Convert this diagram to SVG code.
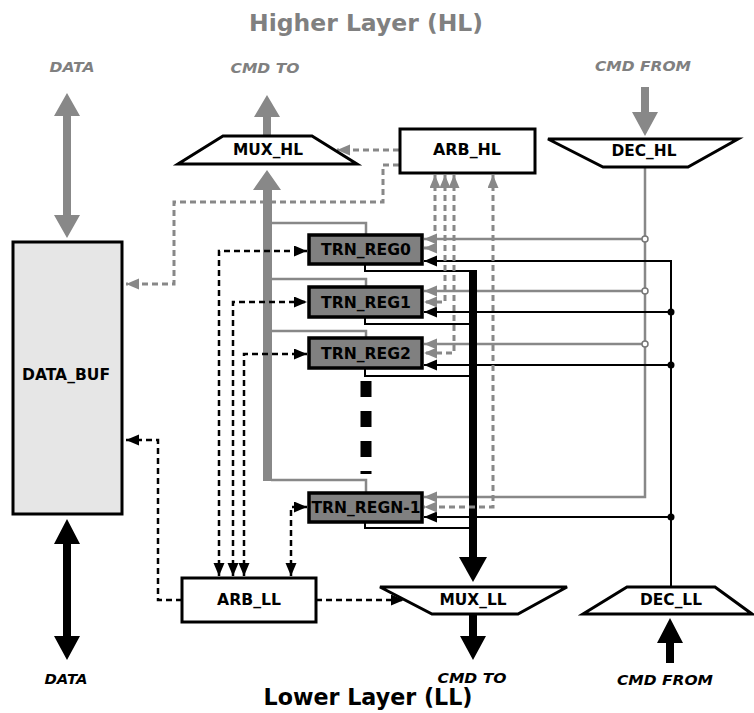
<svg xmlns="http://www.w3.org/2000/svg" width="754" height="713" viewBox="0 0 754 713">
<style>
.lbl{font-family:"DejaVu Sans","Liberation Sans",sans-serif;font-weight:bold;font-size:15px;fill:#000;text-anchor:middle}
.io{font-family:"DejaVu Sans","Liberation Sans",sans-serif;font-weight:bold;font-style:italic;font-size:14px;text-anchor:middle}
.layer{font-family:"DejaVu Sans","Liberation Sans",sans-serif;font-weight:bold;font-size:23px;text-anchor:middle}
.box{fill:#fff;stroke:#000;stroke-width:3}
.reg{fill:#808080;stroke:#000;stroke-width:3.5}
.g{fill:none;stroke:#888;stroke-width:2.5}
.k{fill:none;stroke:#000;stroke-width:2}
.gd{fill:none;stroke:#888;stroke-width:3;stroke-dasharray:6 4}
.kd{fill:none;stroke:#000;stroke-width:2.5;stroke-dasharray:6 4}
</style>
<defs>
<marker id="ak" markerUnits="userSpaceOnUse" markerWidth="14" markerHeight="12" refX="13" refY="5.5" orient="auto-start-reverse"><path d="M0,0 L13,5.5 L0,11 z" fill="#000"/></marker>
<marker id="ag" markerUnits="userSpaceOnUse" markerWidth="14" markerHeight="12" refX="13" refY="5.5" orient="auto-start-reverse"><path d="M0,0 L13,5.5 L0,11 z" fill="#888"/></marker>
</defs>
<rect width="754" height="713" fill="#fff"/>
<text class="layer" x="366" y="31" fill="#808080" textLength="234" lengthAdjust="spacingAndGlyphs">Higher Layer (HL)</text>
<text class="layer" x="368" y="705" fill="#000" textLength="209" lengthAdjust="spacingAndGlyphs">Lower Layer (LL)</text>
<text class="io" x="72" y="72" fill="#808080" textLength="45" lengthAdjust="spacingAndGlyphs">DATA</text>
<text class="io" x="265" y="73" fill="#808080" textLength="69" lengthAdjust="spacingAndGlyphs">CMD TO</text>
<text class="io" x="643" y="71" fill="#808080" textLength="96" lengthAdjust="spacingAndGlyphs">CMD FROM</text>
<text class="io" x="66" y="684" fill="#000" textLength="43" lengthAdjust="spacingAndGlyphs">DATA</text>
<text class="io" x="472" y="683" fill="#000" textLength="69" lengthAdjust="spacingAndGlyphs">CMD TO</text>
<text class="io" x="665" y="685" fill="#000" textLength="96" lengthAdjust="spacingAndGlyphs">CMD FROM</text>
<g id="connectors">
<polygon points="67,93 80,116 71,116 71,215 80,215 67,238 54,215 63,215 63,116 54,116" fill="#888"/>
<polygon points="67,519 80,544 71,544 71,636 80,636 67,660 54,636 63,636 63,544 54,544" fill="#000"/>
<polygon points="263,137 263,117 254,117 267,95 280,117 271,117 271,137" fill="#888"/>
<polygon points="263,481 263,190 253,190 267,170 281,190 272,190 272,481" fill="#888"/>
<polyline class="g" points="271,223 366,223 366,235"/>
<polyline class="g" points="271,279 366,279 366,287"/>
<polyline class="g" points="271,331 366,331 366,339"/>
<polyline class="g" points="271,480 366,480 366,493"/>
<polygon points="641,87 649,87 649,112 658,112 645,136 632,112 641,112" fill="#888"/>
<polyline class="g" points="645,167 645,497 424,497" marker-end="url(#ag)"/>
<line class="g" x1="645" y1="239" x2="424" y2="239" marker-end="url(#ag)"/>
<line class="g" x1="645" y1="291" x2="424" y2="291" marker-end="url(#ag)"/>
<line class="g" x1="645" y1="344" x2="424" y2="344" marker-end="url(#ag)"/>
<circle cx="645" cy="239" r="3" fill="#fff" stroke="#777" stroke-width="1.5"/>
<circle cx="645" cy="291" r="3" fill="#fff" stroke="#777" stroke-width="1.5"/>
<circle cx="645" cy="344" r="3" fill="#fff" stroke="#777" stroke-width="1.5"/>
<polyline class="k" points="671,587 671,261 424,261" marker-end="url(#ak)"/>
<line class="k" x1="671" y1="312" x2="424" y2="312" marker-end="url(#ak)"/>
<line class="k" x1="671" y1="365" x2="424" y2="365" marker-end="url(#ak)"/>
<line class="k" x1="671" y1="517" x2="424" y2="517" marker-end="url(#ak)"/>
<circle cx="671" cy="312" r="3.5" fill="#000"/>
<circle cx="671" cy="365" r="3.5" fill="#000"/>
<circle cx="671" cy="517" r="3.5" fill="#000"/>
<polyline class="k" points="365,264 365,271 473,271"/>
<polyline class="k" points="365,317 365,324 473,324"/>
<polyline class="k" points="365,368 365,376 473,376"/>
<polyline class="k" points="365,522 365,528 473,528"/>
<line x1="473" y1="270" x2="473" y2="558" stroke="#000" stroke-width="8"/>
<polygon points="459,557 487,557 473,582" fill="#000"/>
<polygon points="469,614 477,614 477,636 486,636 473,660 460,636 469,636" fill="#000"/>
<polygon points="666,663 666,643 657,643 670,618 683,643 674,643 674,663" fill="#000"/>
<path class="gd" d="M435,175 V248 H424" marker-start="url(#ag)" marker-end="url(#ag)"/>
<path class="gd" d="M445,175 V302 H424" marker-start="url(#ag)" marker-end="url(#ag)"/>
<path class="gd" d="M454,175 V353 H424" marker-start="url(#ag)" marker-end="url(#ag)"/>
<path class="gd" d="M493,175 V507 H424" marker-start="url(#ag)" marker-end="url(#ag)"/>
<path class="gd" d="M399,150 H337" marker-end="url(#ag)"/>
<path class="gd" d="M399,165 H383 V202 H174 V284 H126" marker-end="url(#ag)"/>
<path class="kd" d="M219,576 V251 H307" marker-start="url(#ak)" marker-end="url(#ak)"/>
<path class="kd" d="M233,576 V302 H307" marker-start="url(#ak)" marker-end="url(#ak)"/>
<path class="kd" d="M244,576 V354 H307" marker-start="url(#ak)" marker-end="url(#ak)"/>
<path class="kd" d="M291,576 V507 H307" stroke-width="4" marker-start="url(#ak)" marker-end="url(#ak)"/>
<path class="kd" d="M316,600 H404" marker-end="url(#ak)"/>
<path class="kd" d="M182,600 H158 V440 H126" marker-end="url(#ak)"/>
<line x1="366" y1="381" x2="366" y2="474" stroke="#000" stroke-width="11" stroke-dasharray="16 14"/>
</g>
<g id="DATA_BUF"><rect x="13" y="242" width="109" height="272" fill="#e6e6e6" stroke="#000" stroke-width="3"/><text class="lbl" x="66" y="380" textLength="88" lengthAdjust="spacingAndGlyphs">DATA_BUF</text></g>
<g id="MUX_HL"><polygon class="box" points="223,136 312,136 357,164 178,164"/><text class="lbl" x="268" y="155" textLength="70" lengthAdjust="spacingAndGlyphs">MUX_HL</text></g>
<g id="ARB_HL"><rect class="box" x="400" y="129" width="135" height="44"/><text class="lbl" x="467" y="155" textLength="68" lengthAdjust="spacingAndGlyphs">ARB_HL</text></g>
<g id="DEC_HL"><polygon class="box" points="548,139 738,139 688,167 603,167"/><text class="lbl" x="644" y="156" textLength="65" lengthAdjust="spacingAndGlyphs">DEC_HL</text></g>
<g id="TRN_REG0"><rect class="reg" x="309" y="235" width="113" height="29"/><text class="lbl" x="366" y="255" textLength="90" lengthAdjust="spacingAndGlyphs">TRN_REG0</text></g>
<g id="TRN_REG1"><rect class="reg" x="309" y="287" width="113" height="30"/><text class="lbl" x="366" y="308" textLength="90" lengthAdjust="spacingAndGlyphs">TRN_REG1</text></g>
<g id="TRN_REG2"><rect class="reg" x="309" y="338" width="113" height="30"/><text class="lbl" x="366" y="359" textLength="90" lengthAdjust="spacingAndGlyphs">TRN_REG2</text></g>
<g id="TRN_REGN-1"><rect class="reg" x="309" y="493" width="113" height="29"/><text class="lbl" x="366" y="513" textLength="109" lengthAdjust="spacingAndGlyphs">TRN_REGN-1</text></g>
<g id="ARB_LL"><rect class="box" x="182" y="578" width="134" height="44"/><text class="lbl" x="249" y="605" textLength="64" lengthAdjust="spacingAndGlyphs">ARB_LL</text></g>
<g id="MUX_LL"><polygon class="box" points="380,587 567,587 518,614 432,614"/><text class="lbl" x="473" y="605" textLength="67" lengthAdjust="spacingAndGlyphs">MUX_LL</text></g>
<g id="DEC_LL"><polygon class="box" points="627,587 715,587 752,614 583,614"/><text class="lbl" x="671" y="605" textLength="62" lengthAdjust="spacingAndGlyphs">DEC_LL</text></g>
</svg>
